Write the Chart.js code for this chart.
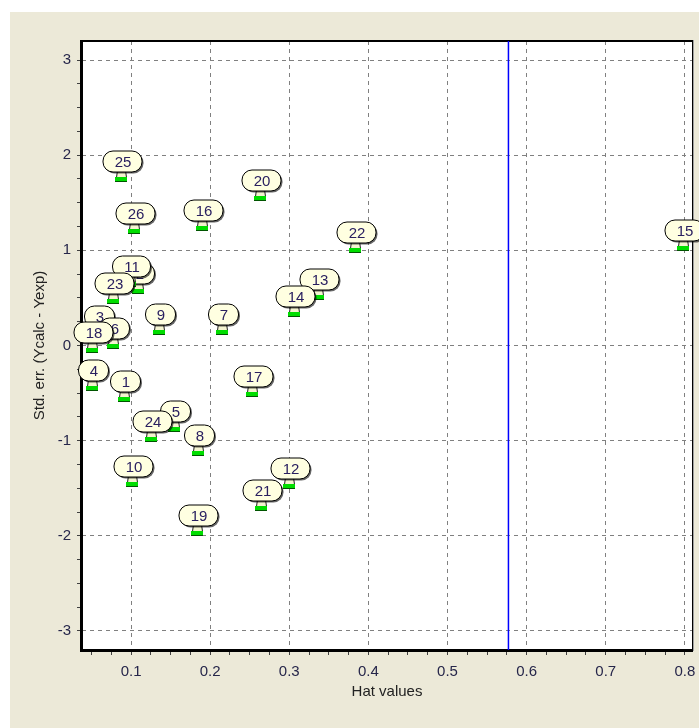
<!DOCTYPE html>
<html>
<head>
<meta charset="utf-8">
<script src="https://cdn.jsdelivr.net/npm/chart.js@4.4.1/dist/chart.umd.min.js"></script>
<style>
html, body { margin: 0; padding: 0; background: #fff; }
#wrap { position: absolute; left: 10px; top: 12px; width: 689px; height: 716px; background: #ece9d8; }
</style>
</head>
<body>
<div id="wrap"><canvas id="myChart" width="689" height="716"></canvas></div>
<script>
// observation numbers, hat values (leverage) and standardized residuals
var ids       = [1, 2, 3, 4, 5, 6, 7, 8, 9, 10, 11, 12, 13, 14, 15, 16, 17, 18, 19, 20, 21, 22, 23, 24, 25, 26];
var hatValues = [0.091, 0.109, 0.058, 0.051, 0.154, 0.077, 0.215, 0.185, 0.135, 0.101, 0.099, 0.300, 0.336,
                 0.306, 0.797, 0.190, 0.253, 0.051, 0.183, 0.263, 0.264, 0.383, 0.077, 0.125, 0.087, 0.104];
var stdErr    = [-0.56, 0.57, 0.12, -0.45, -0.88, 0.00, 0.14, -1.13, 0.14, -1.46, 0.65, -1.48, 0.51,
                 0.33, 1.02, 1.24, -0.51, -0.05, -1.97, 1.55, -1.71, 1.00, 0.47, -0.98, 1.75, 1.20];
var hatLimit = 0.577;
var xLimits = [0.038, 0.809];
var yLimits = [-3.2, 3.2];

var points = hatValues.map(function (h, i) { return { x: h, y: stdErr[i] }; });

function isMajor(v, step) {
    var r = v / step;
    return Math.abs(r - Math.round(r)) < 1e-6;
}

function drawMark(ctx, px, py, text) {
    ctx.save();
    ctx.font = '15px "Liberation Sans", Arial, sans-serif';
    var tw = ctx.measureText(text).width;
    var w = Math.round(tw + 22), h = 21;
    var bx = Math.round(px), by = Math.round(py);
    var cx = bx + 1, cy = by - 18;
    var x0 = cx - w / 2, y0 = cy - h / 2;
    // neck
    ctx.fillStyle = '#f4f4d0';
    ctx.strokeStyle = '#202020';
    ctx.lineWidth = 1;
    ctx.beginPath();
    ctx.moveTo(bx - 3.5, y0 + h - 1);
    ctx.lineTo(bx + 4.5, y0 + h - 1);
    ctx.lineTo(bx + 5.5, by - 1.5);
    ctx.lineTo(bx - 4.5, by - 1.5);
    ctx.closePath();
    ctx.fill();
    ctx.stroke();
    // green marker
    ctx.fillStyle = '#00dd00';
    ctx.fillRect(bx - 6, by - 2, 12, 4);
    ctx.fillStyle = '#005500';
    ctx.fillRect(bx - 6, by + 2, 12, 1);
    // shadow
    ctx.fillStyle = 'rgba(0,0,0,0.6)';
    ctx.beginPath();
    ctx.roundRect(x0 + 2, y0 + 2, w, h, 10);
    ctx.fill();
    // bubble
    ctx.fillStyle = '#ffffe1';
    ctx.strokeStyle = '#000';
    ctx.beginPath();
    ctx.roundRect(x0 + 0.5, y0 + 0.5, w, h, 10);
    ctx.fill();
    ctx.stroke();
    ctx.fillStyle = '#2a2060';
    ctx.textAlign = 'center';
    ctx.textBaseline = 'middle';
    ctx.fillText(text, cx + 1, cy + 1.5);
    ctx.restore();
}

var plotFrame = {
    id: 'plotFrame',
    beforeDraw: function (chart) {
        var a = chart.chartArea, ctx = chart.ctx;
        ctx.save();
        ctx.fillStyle = '#fff';
        ctx.fillRect(a.left, a.top, a.right - a.left, a.bottom - a.top);
        ctx.restore();
    },
    beforeDatasetsDraw: function (chart) {
        var a = chart.chartArea, ctx = chart.ctx;
        ctx.save();
        ctx.fillStyle = '#000';
        ctx.fillRect(a.left - 2, a.top - 1, 3, a.bottom - a.top + 3);
        ctx.fillRect(a.left - 2, a.bottom - 1, a.right - a.left + 3, 3);
        ctx.fillRect(a.left, a.top - 1, a.right - a.left + 1, 2);
        ctx.fillRect(a.right, a.top - 1, 1, a.bottom - a.top + 2);
        ctx.fillStyle = '#a0a0a0';
        ctx.fillRect(a.right + 1, a.top - 1, 1, a.bottom - a.top + 2);
        ctx.restore();
    },
    afterDatasetsDraw: function (chart) {
        var meta = chart.getDatasetMeta(0);
        meta.data.forEach(function (el, i) {
            drawMark(chart.ctx, el.x, el.y, String(ids[i]));
        });
    }
};

var tickFont = { family: '"Liberation Sans", Arial, sans-serif', size: 15 };

var ctx = document.getElementById('myChart').getContext('2d');
var myChart = new Chart(ctx, {
    type: 'scatter',
    data: {
        datasets: [{
            label: 'Observations',
            data: points,
            pointRadius: 0,
            pointHoverRadius: 0
        }, {
            type: 'line',
            label: 'Hat limit',
            data: [{ x: hatLimit, y: yLimits[0] }, { x: hatLimit, y: yLimits[1] }],
            borderColor: '#0000ff',
            borderWidth: 1.5,
            pointRadius: 0,
            showLine: true
        }]
    },
    options: {
        responsive: false,
        animation: false,
        clip: false,
        layout: { padding: { left: 0, top: 29, right: 7, bottom: 0 } },
        plugins: { legend: { display: false }, tooltip: { enabled: false } },
        scales: {
            x: {
                type: 'linear',
                min: xLimits[0],
                max: xLimits[1],
                border: { display: false, dash: [4, 4] },
                grid: {
                    color: function (c) { return isMajor(c.tick.value, 0.1) ? '#808080' : 'transparent'; },
                    tickColor: '#404040',
                    tickLength: 5
                },
                ticks: {
                    stepSize: 0.025,
                    includeBounds: false,
                    autoSkip: false,
                    maxRotation: 0,
                    padding: 8,
                    color: '#26264a',
                    font: tickFont,
                    callback: function (v) { return isMajor(v, 0.1) ? (Math.round(v * 10) / 10).toString() : ''; }
                },
                title: { display: true, text: 'Hat values', color: '#222', font: tickFont, padding: { top: 0, bottom: 27 } },
                afterFit: function (s) { s.height = 78; s.paddingLeft = 0; s.paddingRight = 0; }
            },
            y: {
                type: 'linear',
                min: yLimits[0],
                max: yLimits[1],
                border: { display: false, dash: [4, 4] },
                grid: {
                    color: function (c) { return isMajor(c.tick.value, 1) ? '#808080' : 'transparent'; },
                    tickColor: '#404040',
                    tickLength: 5
                },
                ticks: {
                    stepSize: 0.25,
                    includeBounds: false,
                    autoSkip: false,
                    padding: 6,
                    color: '#26264a',
                    font: tickFont,
                    callback: function (v) { return isMajor(v, 1) ? String(Math.round(v)) : ''; }
                },
                title: { display: true, text: 'Std. err. (Ycalc - Yexp)', color: '#222', font: tickFont, padding: { top: 21, bottom: 0 } },
                afterFit: function (s) { s.width = 72; s.paddingTop = 0; s.paddingBottom = 0; }
            }
        }
    },
    plugins: [plotFrame]
});
</script>
</body>
</html>
